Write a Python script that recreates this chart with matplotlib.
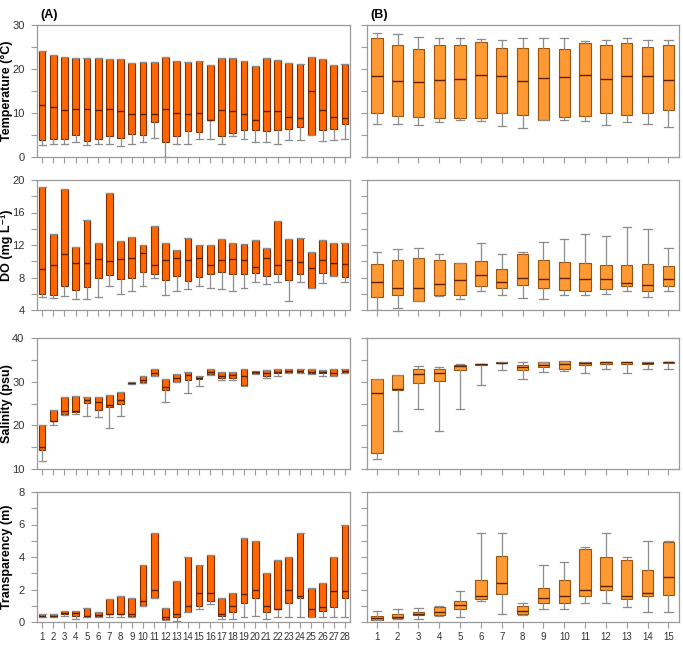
import matplotlib
matplotlib.use("Agg")
import matplotlib.pyplot as plt
from matplotlib.ticker import MultipleLocator

# ---------------- data (A): 28 sites ----------------
sites_A = [str(i) for i in range(1, 29)]
sites_B = [str(i) for i in range(1, 16)]

tempA_hi = [24.0, 23.1, 22.8, 22.5, 22.5, 22.5, 22.2, 22.2, 21.3, 21.6, 21.7, 22.8, 21.9, 21.6,
            21.9, 20.9, 22.5, 22.5, 21.9, 20.7, 22.4, 22.0, 21.3, 21.2, 22.8, 22.2, 20.9, 21.1]
tempA_q3 = tempA_hi
tempA_med = [11.8, 11.3, 10.7, 10.8, 10.8, 10.7, 11.0, 10.5, 9.7, 9.7, 9.7, 11.0, 10.1, 9.7,
             10.1, 8.5, 10.6, 10.4, 9.7, 8.4, 10.4, 10.4, 9.1, 8.8, 14.9, 10.6, 9.1, 8.8]
tempA_q1 = [3.8, 4.2, 4.2, 5.0, 3.6, 4.2, 4.8, 4.4, 5.2, 5.1, 7.9, 3.4, 4.7, 5.9,
            5.6, 8.5, 4.8, 5.5, 6.2, 6.2, 5.9, 6.2, 6.4, 6.9, 5.0, 6.2, 6.4, 7.5]
tempA_lo = [2.7, 3.0, 3.0, 3.3, 2.7, 2.9, 2.9, 2.5, 3.0, 3.3, 4.3, 0.0, 2.9, 2.9,
            4.0, 4.1, 2.9, 4.7, 4.0, 3.3, 3.4, 2.9, 3.8, 3.8, 5.0, 3.7, 3.8, 4.0]

doA_hi = [19.2, 13.3, 18.9, 11.8, 15.1, 12.2, 18.4, 12.5, 13.0, 12.0, 14.3, 12.2, 11.4, 12.9,
          12.0, 12.0, 12.7, 12.2, 12.1, 12.6, 11.6, 15.0, 12.8, 12.9, 11.2, 12.6, 12.3, 12.3]
doA_q3 = doA_hi
doA_med = [9.1, 9.6, 10.9, 9.8, 9.8, 10.3, 10.0, 10.3, 10.4, 11.0, 9.6, 10.2, 10.4, 10.2,
           10.4, 9.6, 10.2, 10.3, 10.2, 9.3, 10.4, 9.6, 10.2, 9.9, 9.2, 10.1, 9.8, 9.7]
doA_q1 = [6.0, 5.9, 6.9, 6.5, 6.8, 8.0, 8.3, 7.8, 7.9, 8.7, 8.4, 7.7, 8.2, 7.6,
          8.1, 8.4, 8.7, 8.4, 8.4, 8.5, 8.2, 8.4, 7.7, 8.4, 6.7, 8.5, 8.2, 8.1]
doA_lo = [5.6, 5.5, 5.7, 5.4, 5.4, 5.6, 6.9, 6.0, 6.4, 6.9, 7.9, 5.9, 6.4, 6.6,
          7.0, 6.7, 6.6, 6.4, 6.7, 7.5, 7.2, 7.4, 5.1, 7.5, 6.7, 7.3, 8.2, 7.4]

salA_hi = [20.1, 23.4, 26.5, 26.7, 26.5, 26.4, 26.9, 27.7, 29.9, 31.2, 32.8, 30.6, 31.8, 32.2,
           31.2, 32.8, 32.2, 32.3, 32.8, 32.5, 32.7, 32.8, 32.8, 32.9, 32.8, 32.7, 32.8, 32.8]
salA_q3 = salA_hi
salA_med = [15.0, 21.1, 23.2, 23.3, 25.7, 25.3, 24.6, 25.8, 29.6, 30.4, 31.9, 28.7, 30.8, 31.6,
            30.8, 32.1, 31.4, 31.6, 31.2, 32.1, 31.9, 32.3, 32.4, 32.5, 32.3, 32.3, 31.9, 32.4]
salA_q1 = [14.4, 20.9, 22.6, 23.1, 25.2, 23.6, 24.1, 25.0, 29.5, 30.0, 31.4, 28.1, 30.0, 30.3,
           30.6, 31.7, 30.8, 30.8, 29.3, 31.9, 31.3, 31.9, 32.2, 32.2, 31.9, 31.9, 31.4, 32.2]
salA_lo = [11.8, 20.1, 22.4, 22.6, 22.2, 21.9, 19.4, 22.2, 29.5, 29.8, 31.4, 25.3, 29.9, 27.5,
           29.0, 31.6, 30.4, 30.4, 29.0, 31.7, 30.9, 31.3, 31.9, 31.9, 31.7, 31.4, 31.2, 31.9]

trA_hi = [0.49, 0.49, 0.70, 0.70, 0.88, 0.60, 1.40, 1.60, 1.50, 3.50, 5.50, 0.86, 2.50, 4.00,
          3.50, 4.10, 1.50, 1.80, 5.20, 5.00, 3.00, 3.80, 4.00, 5.50, 2.08, 2.40, 4.00, 6.00]
trA_q3 = trA_hi
trA_med = [0.35, 0.35, 0.53, 0.53, 0.40, 0.45, 0.49, 0.49, 0.49, 1.30, 2.00, 0.29, 0.51, 1.00,
           1.80, 1.80, 0.49, 1.00, 1.70, 2.00, 1.00, 0.80, 2.00, 1.60, 0.80, 0.90, 1.90, 1.90]
trA_q1 = [0.29, 0.29, 0.49, 0.37, 0.37, 0.37, 0.49, 0.49, 0.40, 1.00, 1.50, 0.20, 0.30, 0.60,
          0.96, 1.30, 0.40, 0.60, 1.20, 1.50, 0.60, 0.80, 1.20, 1.50, 0.30, 0.70, 0.90, 1.50]
trA_lo = [0.29, 0.29, 0.40, 0.20, 0.33, 0.33, 0.33, 0.33, 0.33, 1.00, 1.50, 0.12, 0.08, 0.60,
          0.80, 1.10, 0.20, 0.20, 0.30, 0.40, 0.20, 0.30, 0.30, 0.30, 0.30, 0.30, 0.30, 0.30]

# ---------------- data (B): 15 sites ----------------
tempB_hi = [28.1, 27.9, 27.2, 27.0, 27.0, 26.9, 26.7, 27.0, 27.0, 27.0, 26.4, 26.5, 27.0, 26.5, 26.5]
tempB_q3 = [27.1, 25.5, 24.5, 25.5, 25.4, 26.2, 24.7, 24.7, 24.7, 24.5, 25.8, 25.5, 26.0, 25.0, 25.4]
tempB_med = [18.5, 17.3, 17.0, 17.5, 17.7, 18.6, 18.3, 17.2, 18.0, 18.1, 18.6, 17.8, 18.3, 18.4, 17.5]
tempB_q1 = [10.1, 9.4, 9.1, 8.9, 8.8, 8.8, 9.9, 9.6, 8.5, 9.2, 9.4, 10.1, 9.5, 9.9, 10.7]
tempB_lo = [7.4, 7.6, 7.2, 7.9, 8.3, 8.1, 7.1, 6.7, 8.4, 8.5, 8.1, 7.2, 7.9, 7.6, 6.8]

doB_hi = [11.1, 11.5, 11.6, 10.9, 9.8, 12.2, 10.9, 11.1, 12.4, 12.7, 13.3, 13.1, 14.2, 14.0, 11.6]
doB_q3 = [9.7, 10.2, 10.4, 10.1, 9.8, 10.0, 9.1, 10.9, 10.2, 9.9, 9.8, 9.6, 9.6, 9.7, 9.4]
doB_med = [7.5, 6.7, 6.7, 7.2, 7.7, 8.3, 7.4, 7.9, 7.8, 8.0, 7.8, 7.8, 7.3, 7.1, 7.8]
doB_q1 = [5.6, 5.8, 5.1, 5.8, 5.8, 6.9, 6.7, 7.1, 6.7, 6.5, 6.4, 6.6, 7.0, 6.4, 6.9]
doB_lo = [4.0, 4.2, 5.1, 5.7, 5.4, 6.3, 5.8, 5.5, 5.3, 5.8, 5.8, 6.0, 6.3, 5.6, 6.3]

salB_hi = [30.7, 31.5, 33.5, 33.4, 34.0, 34.1, 34.4, 34.4, 34.4, 34.7, 34.5, 34.5, 34.4, 34.4, 34.5]
salB_q3 = [30.6, 31.5, 32.8, 33.0, 33.9, 34.1, 34.4, 33.8, 34.4, 34.7, 34.5, 34.5, 34.4, 34.4, 34.5]
salB_med = [27.4, 28.4, 31.7, 31.9, 33.5, 34.0, 34.35, 33.3, 33.8, 34.0, 34.2, 34.4, 34.4, 34.3, 34.4]
salB_q1 = [13.7, 28.0, 29.8, 30.1, 32.7, 33.8, 34.3, 32.7, 33.4, 33.0, 33.9, 34.1, 34.1, 34.1, 34.2]
salB_lo = [12.3, 18.8, 23.7, 18.8, 23.7, 29.3, 32.7, 30.7, 32.3, 32.4, 31.9, 32.8, 31.9, 32.8, 32.9]

trB_hi = [0.67, 0.78, 0.88, 0.96, 1.88, 5.50, 5.50, 1.18, 3.51, 3.69, 4.59, 5.50, 4.00, 5.00, 5.00]
trB_q3 = [0.39, 0.49, 0.61, 0.90, 1.27, 2.57, 4.08, 0.98, 2.08, 2.57, 4.49, 4.00, 3.80, 3.18, 4.90]
trB_med = [0.27, 0.33, 0.51, 0.59, 1.02, 1.59, 2.39, 0.69, 1.47, 1.59, 2.00, 2.20, 1.59, 1.78, 2.80]
trB_q1 = [0.14, 0.24, 0.41, 0.43, 0.80, 1.43, 1.71, 0.47, 1.18, 1.18, 1.59, 2.00, 1.39, 1.59, 1.69]
trB_lo = [0.14, 0.18, 0.18, 0.39, 0.30, 1.29, 0.51, 0.43, 0.80, 0.80, 1.18, 1.18, 0.90, 0.59, 0.59]

ylabels = ["Temperature (\u00b0C)", "DO (mg L\u207b\u00b9)", "Salinity (psu)", "Transparency (m)"]
ylims = [(0, 30), (4, 20), (10, 40), (0, 8)]
ymajor = [10, 4, 10, 2]

panelsA = [
    (tempA_lo, tempA_q1, tempA_med, tempA_q3, tempA_hi),
    (doA_lo, doA_q1, doA_med, doA_q3, doA_hi),
    (salA_lo, salA_q1, salA_med, salA_q3, salA_hi),
    (trA_lo, trA_q1, trA_med, trA_q3, trA_hi),
]
panelsB = [
    (tempB_lo, tempB_q1, tempB_med, tempB_q3, tempB_hi),
    (doB_lo, doB_q1, doB_med, doB_q3, doB_hi),
    (salB_lo, salB_q1, salB_med, salB_q3, salB_hi),
    (trB_lo, trB_q1, trB_med, trB_q3, trB_hi),
]

W, H = 683, 654
fig = plt.figure(figsize=(W / 100, H / 100), dpi=100)
plt.rcParams['font.family'] = ['Liberation Sans', 'DejaVu Sans']

rows_px = [(25, 157), (180, 310), (338, 469), (492, 622)]
colA_px = (37, 350)
colB_px = (367, 679)


def mkax(col, row):
    x0, x1 = col
    t, b = row
    return fig.add_axes([x0 / W, 1 - b / H, (x1 - x0) / W, (b - t) / H])


def stats(lo, q1, med, q3, hi, labels):
    out = []
    for i in range(len(labels)):
        out.append(dict(whislo=lo[i], q1=q1[i], med=med[i], q3=q3[i], whishi=hi[i],
                        fliers=[], label=labels[i]))
    return out


frame_col = "#9a9a9a"
for r in range(4):
    for c, (panels, labels, col, face, edge, bw, cw) in enumerate([
        (panelsA, sites_A, colA_px, "#ff6600", "#7a3000", 0.6, 0.62),
        (panelsB, sites_B, colB_px, "#ff9933", "#9a5410", 0.55, 0.4),
    ]):
        ax = mkax(col, rows_px[r])
        lo, q1, med, q3, hi = panels[r]
        st = stats(lo, q1, med, q3, hi, labels)
        pos = list(range(1, len(labels) + 1))
        ax.bxp(st, positions=pos, widths=bw, patch_artist=True, showfliers=False,
               capwidths=cw,
               boxprops=dict(facecolor=face, edgecolor=edge, linewidth=0.8),
               medianprops=dict(color="#5a2200", linewidth=1.0),
               whiskerprops=dict(color="#8c8c8c", linewidth=0.9),
               capprops=dict(color="#8c8c8c", linewidth=0.9))
        ax.set_xlim(0.55 if c == 0 else 0.53, len(labels) + 0.45 if c == 0 else len(labels) + 0.51)
        ax.set_ylim(*ylims[r])
        ax.yaxis.set_major_locator(MultipleLocator(ymajor[r]))
        ax.yaxis.set_minor_locator(MultipleLocator(ymajor[r] / 2))
        for s in ax.spines.values():
            s.set_color(frame_col)
            s.set_linewidth(0.9)
        ax.tick_params(axis='both', which='both', direction='out', color=frame_col,
                       labelcolor="#333333", width=0.8)
        ax.tick_params(axis='y', which='major', labelsize=8, length=4, pad=5)
        ax.tick_params(axis='x', which='major', labelsize=7, length=4, pad=3)
        ax.tick_params(axis='y', which='minor', length=4)
        ax.set_xticks(pos)
        if r < 3:
            ax.set_xticklabels([])
        else:
            ax.set_xticklabels(labels)
        if c == 0:
            ax.set_ylabel(ylabels[r], fontsize=9, fontweight='bold')
            ax.yaxis.set_label_coords(-0.078, 0.5)
        else:
            ax.set_yticklabels([])
        if r == 0:
            ax.text(0.01, 1.03, "(A)" if c == 0 else "(B)", transform=ax.transAxes,
                    fontsize=9, fontweight='bold', ha='left', va='bottom')

fig.savefig("out.png", dpi=100)
